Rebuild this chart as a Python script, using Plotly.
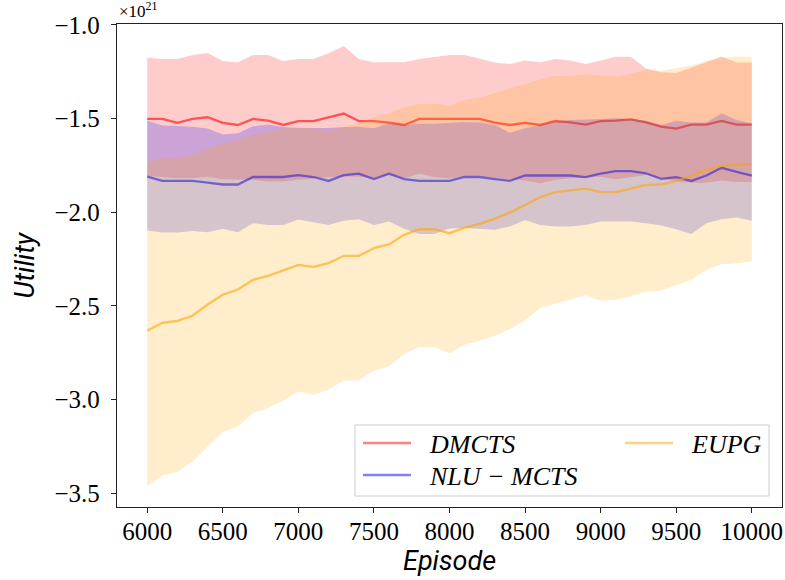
import plotly.graph_objects as go

episodes = [6000, 6100, 6200, 6300, 6400, 6500, 6600, 6700, 6800, 6900,
            7000, 7100, 7200, 7300, 7400, 7500, 7600, 7700, 7800, 7900,
            8000, 8100, 8200, 8300, 8400, 8500, 8600, 8700, 8800, 8900,
            9000, 9100, 9200, 9300, 9400, 9500, 9600, 9700, 9800, 9900, 10000]

# values in units of 1e21
dmcts_mean = [-1.502, -1.502, -1.523, -1.502, -1.493, -1.523, -1.534, -1.502, -1.511, -1.534,
              -1.513, -1.513, -1.493, -1.473, -1.513, -1.513, -1.521, -1.534, -1.502, -1.502,
              -1.502, -1.502, -1.502, -1.521, -1.534, -1.523, -1.534, -1.513, -1.520, -1.532,
              -1.514, -1.511, -1.504, -1.520, -1.543, -1.553, -1.532, -1.532, -1.512, -1.532, -1.532]
dmcts_upper = [-1.173, -1.181, -1.181, -1.160, -1.149, -1.192, -1.199, -1.160, -1.160, -1.192,
               -1.181, -1.181, -1.151, -1.112, -1.181, -1.199, -1.199, -1.199, -1.181, -1.171,
               -1.160, -1.160, -1.181, -1.201, -1.208, -1.190, -1.199, -1.181, -1.190, -1.208,
               -1.190, -1.170, -1.170, -1.232, -1.252, -1.257, -1.228, -1.196, -1.168, -1.200, -1.200]
dmcts_lower = [-1.806, -1.813, -1.819, -1.819, -1.810, -1.824, -1.827, -1.827, -1.836, -1.836,
               -1.827, -1.819, -1.813, -1.810, -1.810, -1.819, -1.801, -1.819, -1.795, -1.813,
               -1.819, -1.810, -1.806, -1.819, -1.827, -1.831, -1.845, -1.827, -1.819, -1.813,
               -1.810, -1.824, -1.813, -1.801, -1.819, -1.836, -1.842, -1.842, -1.831, -1.838, -1.838]

nlu_mean = [-1.810, -1.833, -1.833, -1.833, -1.842, -1.852, -1.852, -1.812, -1.812, -1.812,
            -1.802, -1.812, -1.833, -1.802, -1.794, -1.823, -1.794, -1.823, -1.833, -1.833,
            -1.833, -1.812, -1.812, -1.823, -1.833, -1.803, -1.803, -1.803, -1.804, -1.813,
            -1.794, -1.781, -1.781, -1.792, -1.822, -1.813, -1.833, -1.804, -1.763, -1.785, -1.804]
nlu_upper = [-1.512, -1.537, -1.539, -1.543, -1.553, -1.585, -1.578, -1.541, -1.532, -1.545,
             -1.550, -1.550, -1.550, -1.545, -1.543, -1.552, -1.525, -1.534, -1.528, -1.528,
             -1.525, -1.518, -1.521, -1.534, -1.575, -1.552, -1.534, -1.516, -1.508, -1.507,
             -1.502, -1.498, -1.502, -1.511, -1.534, -1.511, -1.521, -1.521, -1.472, -1.507, -1.525]
nlu_lower = [-2.098, -2.109, -2.109, -2.100, -2.107, -2.089, -2.107, -2.059, -2.068, -2.068,
             -2.039, -2.055, -2.068, -2.046, -2.037, -2.068, -2.050, -2.089, -2.116, -2.116,
             -2.087, -2.084, -2.087, -2.094, -2.076, -2.041, -2.068, -2.076, -2.076, -2.068,
             -2.050, -2.050, -2.050, -2.059, -2.071, -2.091, -2.117, -2.059, -2.037, -2.028, -2.046]

eupg_mean = [-2.633, -2.591, -2.580, -2.553, -2.493, -2.441, -2.413, -2.361, -2.340, -2.311,
             -2.281, -2.292, -2.272, -2.233, -2.233, -2.192, -2.172, -2.121, -2.091, -2.091,
             -2.112, -2.082, -2.062, -2.034, -2.002, -1.961, -1.920, -1.893, -1.884, -1.874,
             -1.893, -1.893, -1.874, -1.854, -1.852, -1.833, -1.806, -1.774, -1.753, -1.744, -1.744]
eupg_upper = [-1.733, -1.712, -1.712, -1.694, -1.658, -1.635, -1.614, -1.587, -1.569, -1.552,
              -1.546, -1.552, -1.566, -1.546, -1.525, -1.493, -1.472, -1.440, -1.422, -1.420,
              -1.432, -1.400, -1.388, -1.365, -1.338, -1.317, -1.290, -1.272, -1.272, -1.263,
              -1.268, -1.277, -1.260, -1.238, -1.245, -1.232, -1.216, -1.192, -1.175, -1.170, -1.170]
eupg_lower = [-3.464, -3.406, -3.388, -3.331, -3.251, -3.174, -3.144, -3.073, -3.046, -3.007,
              -2.957, -2.975, -2.948, -2.899, -2.899, -2.847, -2.824, -2.756, -2.721, -2.721,
              -2.753, -2.708, -2.687, -2.660, -2.625, -2.578, -2.512, -2.489, -2.464, -2.443,
              -2.473, -2.468, -2.450, -2.424, -2.418, -2.388, -2.361, -2.308, -2.278, -2.272, -2.263]

series_names = ["DMCTS", "NLU − MCTS", "EUPG"]
x_ticks = [6000, 6500, 7000, 7500, 8000, 8500, 9000, 9500, 10000]
y_ticks = [-3.5, -3.0, -2.5, -2.0, -1.5, -1.0]

colors = [(255, 0, 0), (0, 0, 255), (255, 165, 0)]
series = [
    (series_names[0], dmcts_mean, dmcts_upper, dmcts_lower, colors[0]),
    (series_names[1], nlu_mean, nlu_upper, nlu_lower, colors[1]),
    (series_names[2], eupg_mean, eupg_upper, eupg_lower, colors[2]),
]

fig = go.Figure()
for name, mean, up, lo, (r, g, b) in series:
    fig.add_trace(go.Scatter(x=episodes, y=up, mode="lines", line=dict(width=0),
                             showlegend=False, hoverinfo="skip"))
    fig.add_trace(go.Scatter(x=episodes, y=lo, mode="lines", line=dict(width=0),
                             fill="tonexty", fillcolor=f"rgba({r},{g},{b},0.2)",
                             showlegend=False, hoverinfo="skip"))
    fig.add_trace(go.Scatter(x=episodes, y=mean, mode="lines", name=name,
                             line=dict(color=f"rgba({r},{g},{b},0.6)", width=2.3),
                             showlegend=False))

serif = "Liberation Serif, DejaVu Serif, serif"
axis_common = dict(showgrid=False, zeroline=False, showline=True, mirror=True,
                   linecolor="#222222", linewidth=1.3, ticks="outside", ticklen=5,
                   tickwidth=1.2, tickcolor="#222222", automargin=False,
                   tickfont=dict(family=serif, size=25, color="black"))

# manual legend (pixel layout converted to paper fractions)
L, R, T, B = 117, 782, 24, 507
W, H = R - L, B - T
def px(x):
    return (x - L) / W
def py(y):
    return (B - y) / H

shapes = [dict(type="rect", xref="paper", yref="paper",
               x0=px(355), x1=px(769), y0=py(496), y1=py(425),
               fillcolor="rgba(255,255,255,0.8)", line=dict(color="#cccccc", width=1),
               layer="above")]
legend_slots = [(363, 443), (363, 475), (625, 443)]  # DMCTS, NLU-MCTS, EUPG
annotations = []
for (name, _, _, _, (r, g, b)), (lx, ly) in zip(series, legend_slots):
    shapes.append(dict(type="line", xref="paper", yref="paper",
                       x0=px(lx), x1=px(lx + 48), y0=py(ly), y1=py(ly),
                       line=dict(color=f"rgba({r},{g},{b},0.5)", width=2.5), layer="above"))
    annotations.append(dict(text=f"<i>{name}</i>", xref="paper", yref="paper",
                            x=px(lx + 64), y=py(ly + 1), xanchor="left", yanchor="middle",
                            showarrow=False,
                            font=dict(family=serif, size=26, color="black")))

annotations += [
    dict(text="×10<sup>21</sup>", xref="paper", yref="paper", x=px(117), y=py(23),
         xanchor="left", yanchor="bottom", showarrow=False,
         font=dict(family=serif, size=17, color="black")),
    dict(text="<i>Utility</i>", xref="paper", yref="paper", x=px(24), y=0.5,
         textangle=-90, xanchor="center", yanchor="middle", showarrow=False,
         font=dict(family="Roboto, DejaVu Sans, sans-serif", size=27, color="black")),
    dict(text="<i>Episode</i>", xref="paper", yref="paper", x=0.5, y=py(561),
         xanchor="center", yanchor="middle", showarrow=False,
         font=dict(family="Roboto, DejaVu Sans, sans-serif", size=27, color="black")),
]

fig.update_layout(
    width=785, height=580,
    margin=dict(l=L, r=785 - R, t=T, b=580 - B, autoexpand=False),
    plot_bgcolor="white", paper_bgcolor="white",
    showlegend=False,
    xaxis=dict(range=[5800, 10200], tickvals=x_ticks, tickformat="d",
               ticklabelstandoff=-3, **axis_common),
    yaxis=dict(range=[-3.5746, -0.9947], tickvals=y_ticks, tickformat=".1f",
               ticklabelstandoff=6, **axis_common),
    shapes=shapes,
    annotations=annotations,
)

fig.write_html("out.html", config={"displayModeBar": False},
               post_script="document.body.style.margin='0';document.body.style.overflow='hidden';")
